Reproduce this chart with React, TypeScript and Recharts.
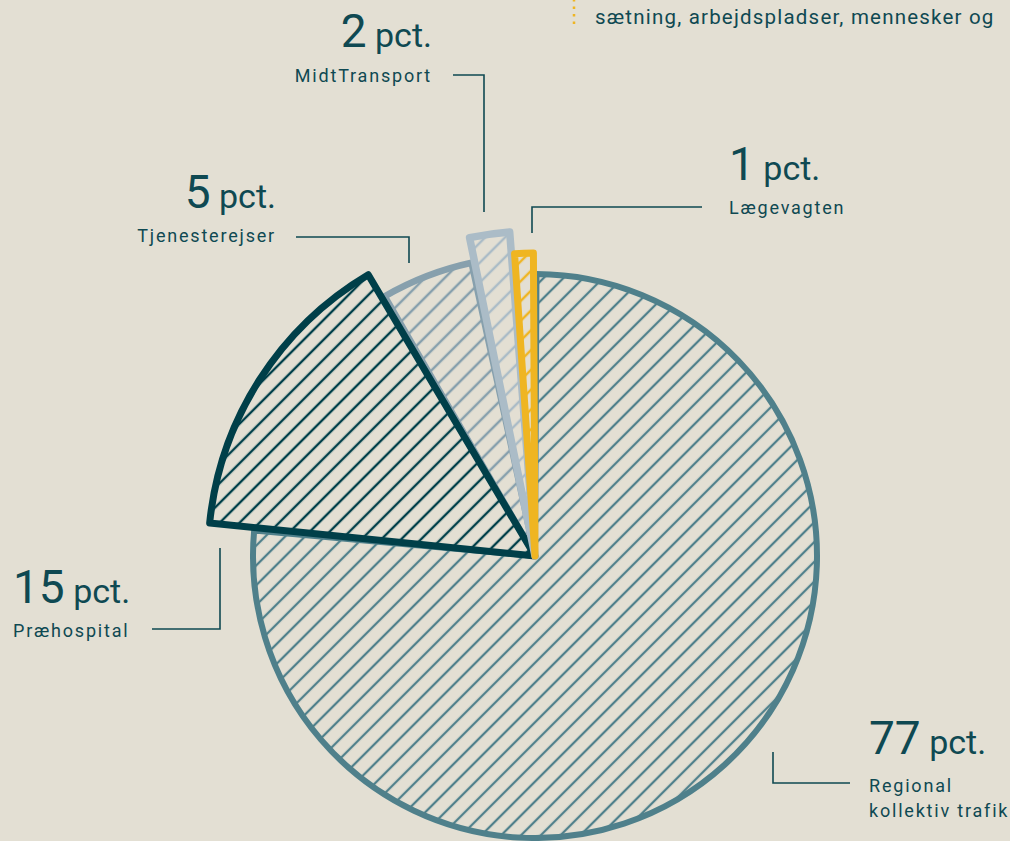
import { PieChart, Pie, Cell } from "recharts";

// data
const categories = ["Regional kollektiv trafik", "Præhospital", "Tjenesterejser", "MidtTransport", "Lægevagten"];
const shares = [77, 15, 5, 2, 1];
const unit = "pct.";

const rows = categories.map((name, i) => ({ name, value: shares[i] }));

const BG = "#e3dfd3";
const INK = "#0f4952";
const FONT = "Roboto, 'Open Sans', sans-serif";

// look of each slice: colour, outer radius, outline width, hatch line width
const sliceStyle: Record<string, { color: string; r: number; w: number; hatch: number }> = {
  "Regional kollektiv trafik": { color: "#4f808b", r: 282, w: 6, hatch: 2.3 },
  "Præhospital": { color: "#003f49", r: 327, w: 7, hatch: 2.4 },
  "Tjenesterejser": { color: "#87a0ad", r: 300, w: 6.5, hatch: 2.5 },
  "MidtTransport": { color: "#abbcc7", r: 325, w: 7.5, hatch: 2.5 },
  "Lægevagten": { color: "#efb522", r: 303, w: 7, hatch: 2.5 },
};

// later ones are painted on top
const drawOrder = ["Regional kollektiv trafik", "Tjenesterejser", "Præhospital", "MidtTransport", "Lægevagten"];

// label placement (annotation layout, not data)
const labelSpots: Record<string, { x: number; y: number; anchor: "start" | "end"; lines: string[]; gap: number; leader: string }> = {
  "MidtTransport": { x: 432, y: 47, anchor: "end", lines: ["MidtTransport"], gap: 35, leader: "M453,75 H484 V212" },
  "Tjenesterejser": { x: 276, y: 208, anchor: "end", lines: ["Tjenesterejser"], gap: 34, leader: "M296,237 H409 V263" },
  "Lægevagten": { x: 729, y: 180, anchor: "start", lines: ["Lægevagten"], gap: 34, leader: "M702,207 H532 V233" },
  "Præhospital": { x: 13, y: 603, anchor: "start", lines: ["Præhospital"], gap: 34, leader: "M152,629 H220 V548" },
  "Regional kollektiv trafik": { x: 869, y: 754, anchor: "start", lines: ["Regional", "kollektiv trafik"], gap: 38, leader: "M773,752 V783 H850" },
};

const PAD = 0.6;

const App = () => {
  return (
    <div style={{ position: "absolute", left: 0, top: 0, width: 1010, height: 841, background: BG, overflow: "hidden" }}>
      <PieChart width={1010} height={841} margin={{ top: 0, right: 0, bottom: 0, left: 0 }}>
        <defs>
          {categories.map((name, i) => (
            <pattern
              key={name}
              id={`hatch-${i}`}
              patternUnits="userSpaceOnUse"
              width={14}
              height={14}
              patternTransform="rotate(45)"
            >
              <line x1={7} y1={-2} x2={7} y2={16} stroke={sliceStyle[name].color} strokeWidth={sliceStyle[name].hatch} />
            </pattern>
          ))}
        </defs>

        {/* top text fragment */}
        <line x1={574} y1={-1} x2={574} y2={24} stroke="#efb522" strokeWidth={2.5} strokeDasharray="2.5 5" />
        <text x={595} y={24} fill={INK} fontFamily={FONT} fontSize={20.5} letterSpacing={1.2}>
          sætning, arbejdspladser, mennesker og
        </text>

        {drawOrder.map((top) => {
          const idx = categories.indexOf(top);
          const st = sliceStyle[top];
          return (
            <Pie
              key={top}
              data={rows}
              dataKey="value"
              nameKey="name"
              cx={535}
              cy={556}
              innerRadius={0}
              outerRadius={st.r}
              startAngle={90 - PAD / 2}
              endAngle={-270 - PAD / 2}
              paddingAngle={PAD}
              label={false}
              labelLine={false}
              isAnimationActive={false}
            >
              {rows.map((row, i) => (
                <Cell
                  key={row.name}
                  fill={i === idx ? `url(#hatch-${i})` : "none"}
                  stroke={i === idx ? st.color : "none"}
                  strokeWidth={st.w}
                  strokeLinejoin="round"
                />
              ))}
            </Pie>
          );
        })}

        {/* labels */}
        {categories.map((name, i) => {
          const spot = labelSpots[name];
          return (
            <g key={name}>
              <path d={spot.leader} fill="none" stroke={INK} strokeWidth={1.6} />
              <text x={spot.x} y={spot.y} textAnchor={spot.anchor} fill={INK} fontFamily={FONT}>
                <tspan fontSize={46}>{shares[i]}</tspan>
                <tspan fontSize={34}> {unit}</tspan>
              </text>
              {spot.lines.map((ln, k) => (
                <text
                  key={ln}
                  x={spot.x}
                  y={spot.y + spot.gap + k * 25}
                  textAnchor={spot.anchor}
                  fill={INK}
                  fontFamily={FONT}
                  fontSize={18}
                  letterSpacing={1.8}
                >
                  {ln}
                </text>
              ))}
            </g>
          );
        })}
      </PieChart>
    </div>
  );
};

export default App;
